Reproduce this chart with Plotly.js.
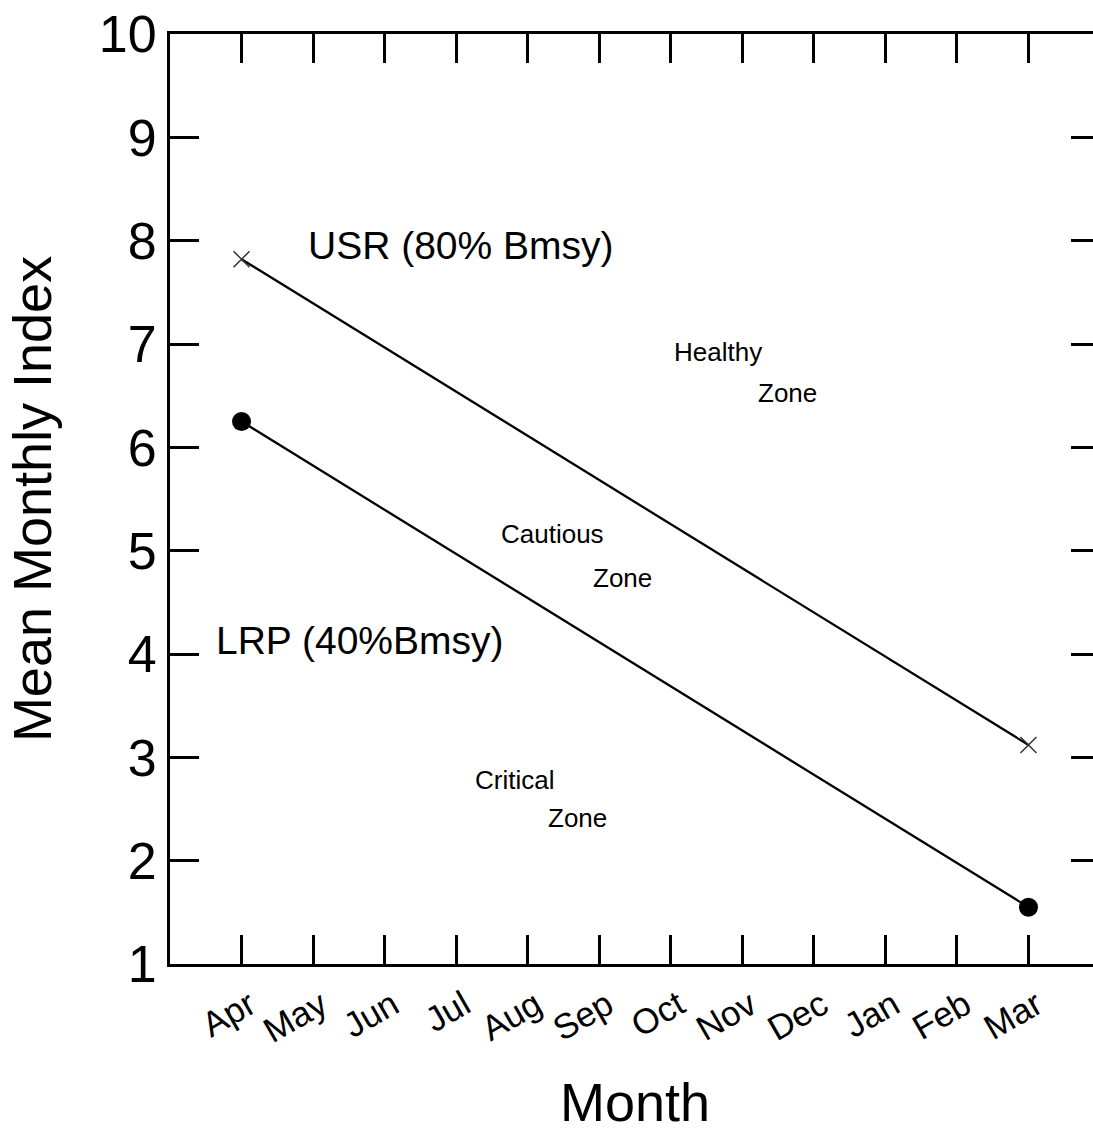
<!DOCTYPE html>
<html>
<head>
<meta charset="utf-8">
<script src="https://cdn.plot.ly/plotly-3.0.1.min.js"></script>
<style>
html, body { margin: 0; padding: 0; overflow: hidden; background: #fff; }
#chart { width: 1110px; height: 1132px; }
</style>
</head>
<body>
<div id="chart"></div>
<script>
const months = ['Apr','May','Jun','Jul','Aug','Sep','Oct','Nov','Dec','Jan','Feb','Mar'];
const pointMonths = ['Apr','Mar'];
const usrValues = [7.82, 3.12];
const lrpValues = [6.25, 1.55];
const yTicks = [1,2,3,4,5,6,7,8,9,10];

const labelTexts = ['USR (80% Bmsy)', 'LRP (40%Bmsy)', 'Healthy', 'Zone', 'Cautious', 'Zone', 'Critical', 'Zone'];
const labelX = [3.07, 1.66, 6.66, 7.63, 4.35, 5.33, 3.81, 4.69];
const labelY = [7.95, 4.13, 6.92, 6.53, 5.16, 4.74, 2.78, 2.41];
const labelSizes = [39, 39, 26, 26, 26, 26, 26, 26];

const FONT = 'Liberation Sans, Arial, sans-serif';

const traces = [
  {
    x: pointMonths, y: usrValues, type: 'scatter', mode: 'lines+markers',
    line: { color: '#000', width: 2.3 },
    marker: { symbol: 'x-thin', size: 16, line: { color: '#333', width: 1.5 }, color: '#333' },
    showlegend: false, hoverinfo: 'skip'
  },
  {
    x: pointMonths, y: lrpValues, type: 'scatter', mode: 'lines+markers',
    line: { color: '#000', width: 2.3 },
    marker: { symbol: 'circle', size: 19, color: '#000' },
    showlegend: false, hoverinfo: 'skip'
  }
];

const annotations = labelTexts.map((t, i) => ({
  x: labelX[i], y: labelY[i], xref: 'x', yref: 'y',
  text: t, showarrow: false, xanchor: 'center', yanchor: 'middle',
  font: { family: FONT, size: labelSizes[i], color: '#000' }
}));

const layout = {
  width: 1110, height: 1132,
  margin: { l: 170, r: 10, t: 34, b: 168 },
  paper_bgcolor: '#fff', plot_bgcolor: '#fff',
  font: { family: FONT, color: '#000' },
  xaxis: {
    type: 'category', categoryorder: 'array', categoryarray: months,
    range: [-1, 12],
    showgrid: false, zeroline: false,
    showline: true, linecolor: '#000', linewidth: 3, mirror: 'ticks',
    ticks: 'inside', ticklen: 29, tickwidth: 3, tickcolor: '#000',
    tickangle: -30, tickfont: { family: FONT, size: 35, color: '#000' },
    ticklabelshift: 8, ticklabelstandoff: 4,
    title: { text: 'Month', font: { family: FONT, size: 54, color: '#000' }, standoff: 36 }
  },
  yaxis: {
    range: [1, 10], tickvals: yTicks, ticktext: yTicks.map(String),
    showgrid: false, zeroline: false,
    showline: true, linecolor: '#000', linewidth: 3, mirror: 'ticks',
    ticks: 'inside', ticklen: 29, tickwidth: 3, tickcolor: '#000',
    tickfont: { family: FONT, size: 52, color: '#000' },
    title: { text: 'Mean Monthly Index', font: { family: FONT, size: 54, color: '#000' }, standoff: 30 }
  },
  annotations: annotations
};

Plotly.newPlot('chart', traces, layout, { displayModeBar: false, staticPlot: true });
</script>
</body>
</html>
